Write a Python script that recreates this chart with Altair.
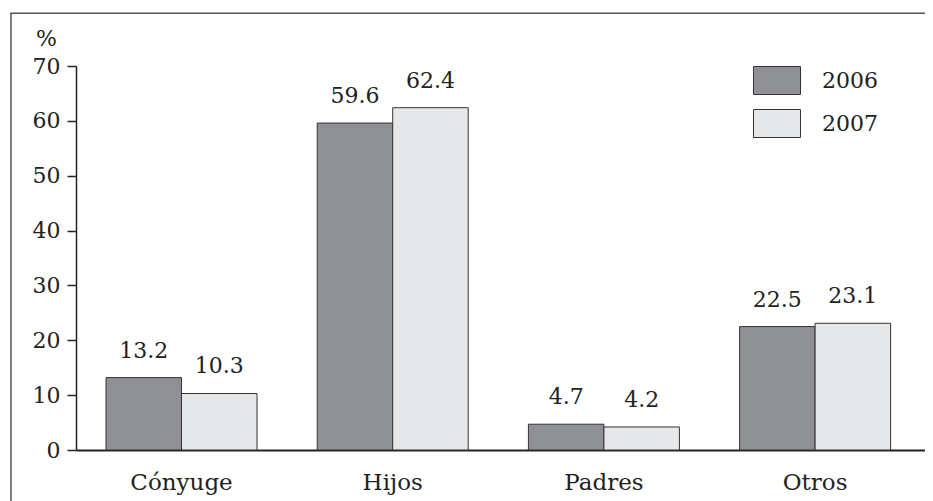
import altair as alt
import pandas as pd

categories = ["Cónyuge", "Hijos", "Padres", "Otros"]
years = ["2006", "2007"]
values_2006 = [13.2, 59.6, 4.7, 22.5]
values_2007 = [10.3, 62.4, 4.2, 23.1]
y_ticks = [0, 10, 20, 30, 40, 50, 60, 70]
colors = ["#8f9094", "#e6e7e9"]

rows = []
for c, a, b in zip(categories, values_2006, values_2007):
    rows.append({"cat": c, "year": years[0], "value": a})
    rows.append({"cat": c, "year": years[1], "value": b})
df = pd.DataFrame(rows)

FONT = "DejaVu Serif"
INK = "#222222"
W, H = 849, 384

x_enc = alt.X(
    "cat:N",
    sort=categories,
    scale=alt.Scale(paddingInner=0.285, paddingOuter=0.1525, align=0.466),
    axis=alt.Axis(
        title=None, ticks=False, labelAngle=0, labelFontSize=23, labelPadding=21,
        domainWidth=2, domainColor=INK, labelColor=INK, labelFont=FONT,
    ),
)
xo_enc = alt.XOffset("year:N", sort=years, scale=alt.Scale(paddingInner=0, paddingOuter=0))
y_enc = alt.Y(
    "value:Q",
    scale=alt.Scale(domain=[0, 70], nice=False),
    axis=alt.Axis(
        values=y_ticks, tickSize=9, tickColor=INK, tickWidth=1.5, labelPadding=7,
        labelFont=FONT, labelFontSize=22, labelColor=INK, grid=False,
        domainColor=INK, domainWidth=1.5,
        title="%", titleAngle=0, titleX=-30, titleY=-28, titleAlign="center",
        titleBaseline="middle", titleFont=FONT, titleFontSize=22,
        titleFontWeight="normal", titleColor=INK,
    ),
)

base = alt.Chart(df)

bars = base.mark_bar(stroke="#333333", strokeWidth=1).encode(
    x=x_enc,
    xOffset=xo_enc,
    y=y_enc,
    color=alt.Color(
        "year:N",
        scale=alt.Scale(domain=years, range=colors),
        legend=alt.Legend(
            title=None, orient="none", legendX=686.5, legendY=0,
            symbolType="M-1.68,-1H1.68V1H-1.68Z", symbolSize=784,
            symbolStrokeColor="#333333", symbolStrokeWidth=1, symbolOpacity=1,
            labelFont=FONT, labelFontSize=22, labelColor=INK, labelOffset=30.5,
            rowPadding=10, padding=0,
        ),
    ),
)

labels = base.mark_text(
    font=FONT, fontSize=22, color=INK, baseline="alphabetic", dy=-20
).encode(
    x=x_enc,
    xOffset=xo_enc,
    y=alt.Y("value:Q"),
    text=alt.Text("value:Q", format=".1f"),
)

frame = alt.Chart(pd.DataFrame({"f": [0]})).mark_rect(
    fillOpacity=0, stroke="#555555", strokeWidth=1.5
).encode(
    x=alt.value(-65), x2=alt.value(W + 30),
    y=alt.value(-52.7), y2=alt.value(H + 100),
)

chart = alt.layer(frame, bars, labels).properties(
    width=W, height=H,
    autosize=alt.AutoSizeParams(type="none"),
    padding={"left": 68, "top": 58, "right": 0, "bottom": 51},
).configure_view(stroke=None)

chart.save("out.html", embed_options={"renderer": "svg", "actions": False})
